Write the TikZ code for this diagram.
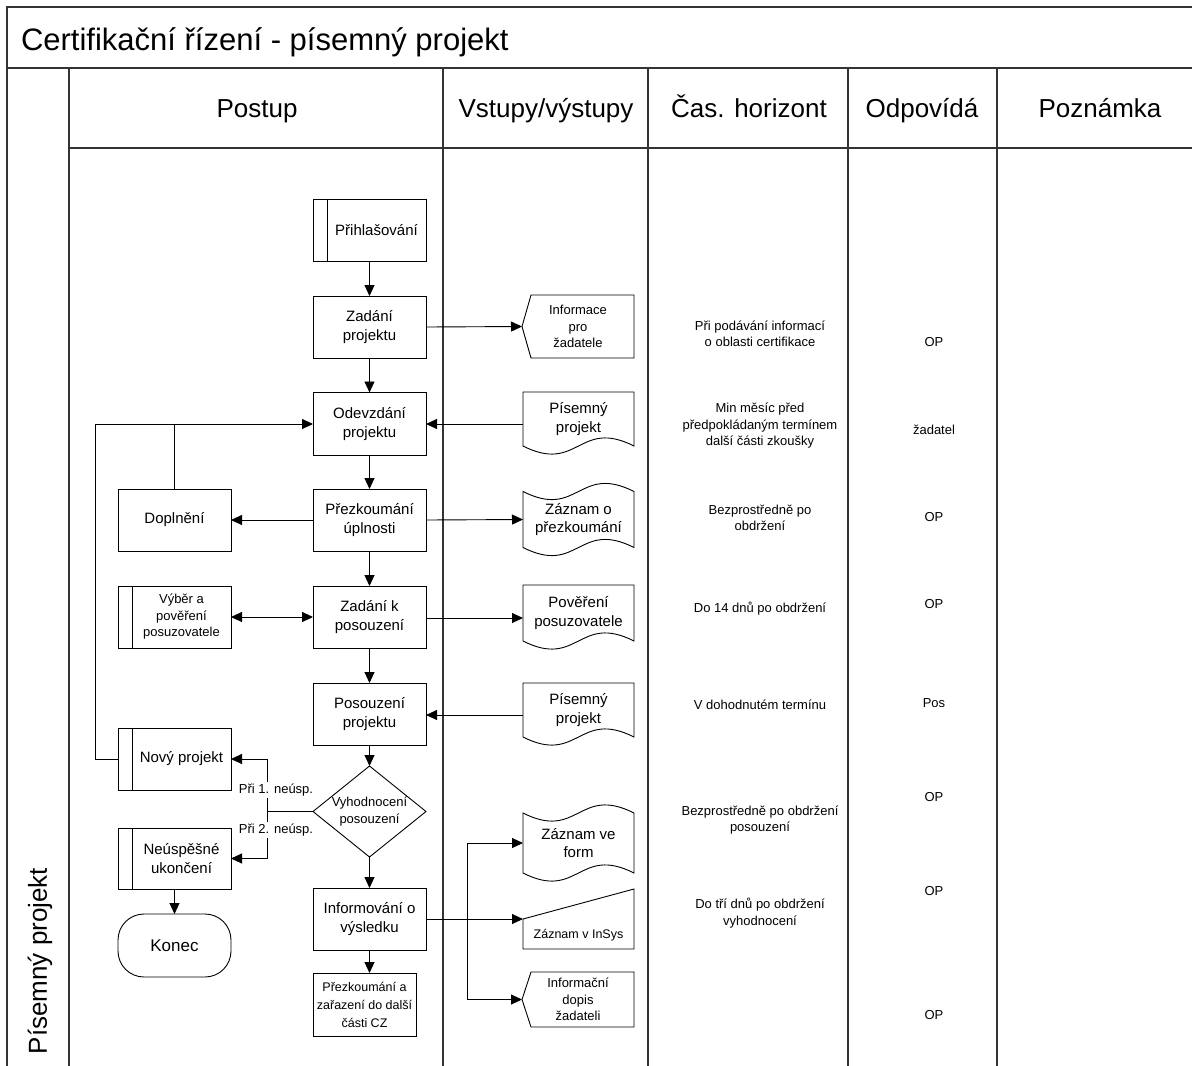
\documentclass[tikz,border=0pt]{standalone}
\usepackage{fontspec}
\setmainfont{Liberation Sans}
\usetikzlibrary{arrows.meta,shapes.geometric}
\newcommand\fstitle{\fontsize{31}{36}\selectfont}
\newcommand\fshead{\fontsize{26}{31}\selectfont}
\newcommand\fsnode{\fontsize{15}{18.5}\selectfont}
\newcommand\fssmall{\fontsize{13}{16.5}\selectfont}
\newcommand\fsnarrow{\fontsize{12.5}{18}\selectfont}
\newcommand\fsend{\fontsize{17}{20}\selectfont}
\begin{document}
\begin{tikzpicture}[x=1pt,y=-1pt,
  every node/.style={inner sep=0pt, outer sep=0pt, align=center},
  grid/.style={line width=1.3pt, draw=black!80},
  outline/.style={draw, line width=0.9pt},
  box/.style={outline, rectangle, minimum width=113pt, minimum height=62pt, font=\fsnode},
  predef/.style={box, path picture={\draw[line width=0.9pt]
      ([xshift=14pt]path picture bounding box.north west) --
      ([xshift=14pt]path picture bounding box.south west);}},
  terminal/.style={outline, rectangle, rounded corners=26pt, minimum width=113pt, minimum height=63pt, font=\fsend},
  decision/.style={outline, diamond, minimum width=113pt, minimum height=91pt},
  ghost/.style={rectangle, minimum width=111pt, font=\fsnode},
  conn/.style={line width=0.9pt},
  arr/.style={conn, -{Triangle[length=11pt,width=10pt]}},
  darr/.style={conn, {Triangle[length=11pt,width=10pt]}-{Triangle[length=11pt,width=10pt]}},
  note/.style={font=\fssmall},
  head/.style={font=\fshead, anchor=base},
  tag/.style={font=\fssmall, fill=white, inner sep=1.5pt}
]
\useasboundingbox (0,0) rectangle (1192,1066);

% ---------- table frame ----------
\draw[grid] (7,1070) -- (7,7) -- (1195,7);
\draw[grid] (7,68) -- (1195,68);
\draw[grid] (69,148) -- (1195,148);
\foreach \cx in {69,443,648,848,997}
  \draw[grid] (\cx,68) -- (\cx,1070);

\node[anchor=base west, font=\fstitle] (title) at (21,50) {Certifikační řízení - písemný projekt};
\node[head] (hPostup) at (257,117) {Postup};
\node[head] (hVstupy) at (546,117) {Vstupy/výstupy};
\node[head] (hCas) at (749,117) {Čas. horizont};
\node[head] (hOdp) at (922,117) {Odpovídá};
\node[head] (hPozn) at (1100,117) {Poznámka};
\node[font=\fshead, rotate=90] (lane) at (40,961) {Písemný projekt};

% ---------- process steps ----------
\node[predef] (prih) at (369.5,230) {};
\node[font=\fsnode] (prihT) at ([xshift=7pt]prih.center) {Přihlašování};
\node[box] (zadP) at (369.5,327) {Zadání\\projektu};
\node[box, minimum height=63pt] (odev) at (369.5,424) {Odevzdání\\projektu};
\node[box] (prez) at (369.5,520) {Přezkoumání\\úplnosti};
\node[box] (dopl) at (174.5,520) {Doplnění};
\node[box] (zadK) at (369.5,617) {Zadání k\\posouzení};
\node[predef] (vyber) at (174.5,617) {};
\node[font=\fssmall] (vyberT) at ([xshift=7pt]vyber.center) {Výběr a\\pověření\\posuzovatele};
\node[box] (posP) at (369.5,714) {Posouzení\\projektu};
\node[predef] (novy) at (174.5,759) {};
\node[font=\fsnode] (novyT) at ([xshift=7pt]novy.center) {Nový projekt};
\node[decision] (vyh) at (369.5,811.5) {};
\node[font=\fssmall] (vyhT) at (vyh.center) {Vyhodnocení\\posouzení};
\node[predef, minimum height=61pt] (neusp) at (174.5,858.5) {};
\node[font=\fsnode] (neuspT) at ([xshift=7pt]neusp.center) {Neúspěšné\\ukončení};
\node[terminal] (konec) at (174.5,945.5) {Konec};
\node[box] (inform) at (369.5,919) {Informování o\\výsledku};
\node[box, minimum width=103pt, minimum height=63pt, font=\fsnarrow] (prezA) at (364.5,1004.5) {Přezkoumání a\\zařazení do další\\části CZ};

% ---------- inputs / outputs ----------
% off-page letter to the applicant
\node[ghost, minimum width=112pt, minimum height=63pt, font=\fssmall] (inf1) at (578,326.5) {Informace\\pro\\žadatele};
\draw[outline] (inf1.west) -- ([xshift=9pt]inf1.north west) -- (inf1.north east)
  -- (inf1.south east) -- ([xshift=9pt]inf1.south west) -- cycle;

% documents with a wavy lower edge
\node[ghost, minimum height=54pt] (pis1) at (578.5,419) {Písemný\\projekt};
\draw[outline] (pis1.south west) -- (pis1.north west) -- (pis1.north east) -- (pis1.south east)
  .. controls +(-55.5,-28) and +(55.5,28) .. (pis1.south west);

\node[ghost, minimum height=56pt] (pov) at (578.5,613) {Pověření\\posuzovatele};
\draw[outline] (pov.south west) -- (pov.north west) -- (pov.north east) -- (pov.south east)
  .. controls +(-55.5,-28) and +(55.5,28) .. (pov.south west);

\node[ghost, minimum height=54pt] (pis2) at (578.5,710) {Písemný\\projekt};
\draw[outline] (pis2.south west) -- (pis2.north west) -- (pis2.north east) -- (pis2.south east)
  .. controls +(-55.5,-28) and +(55.5,28) .. (pis2.south west);

% punched-tape records
\node[ghost, minimum height=56pt] (zazP) at (578.5,519.5) {Záznam o\\přezkoumání};
\draw[outline] (zazP.north west) .. controls +(55.5,28) and +(-55.5,-28) .. (zazP.north east)
  -- (zazP.south east) .. controls +(-55.5,-28) and +(55.5,28) .. (zazP.south west) -- cycle;

\node[ghost, minimum height=60pt] (zazF) at (578.5,843) {Záznam ve\\form};
\draw[outline] (zazF.north west) .. controls +(55.5,28) and +(-55.5,-28) .. (zazF.north east)
  -- (zazF.south east) .. controls +(-55.5,-28) and +(55.5,28) .. (zazF.south west) -- cycle;

% manual input into the information system
\node[ghost, minimum height=60pt] (insys) at (578.5,919) {};
\draw[outline] (insys.west) -- (insys.north east) -- (insys.south east) -- (insys.south west) -- cycle;
\node[font=\fsnarrow] (insysT) at (578.5,935) {Záznam v InSys};

% off-page information letter
\node[ghost, minimum width=112pt, minimum height=55pt, font=\fssmall] (dopis) at (578,999.5) {Informační\\dopis\\žadateli};
\draw[outline] (dopis.west) -- ([xshift=9pt]dopis.north west) -- (dopis.north east)
  -- (dopis.south east) -- ([xshift=9pt]dopis.south west) -- cycle;

% ---------- main flow ----------
\draw[arr] (prih) -- (zadP);
\draw[arr] (zadP) -- (odev);
\draw[arr] (odev) -- (prez);
\draw[arr] (prez) -- (zadK);
\draw[arr] (zadK) -- (posP);
\draw[arr] (posP) -- (vyh);
\draw[arr] (vyh) -- (inform);
\draw[arr] (inform.south) -- (inform.south |- prezA.north);

% side branches
\draw[arr] (prez.west) -- (dopl.east);
\draw[darr] (vyber.east) -- (zadK.west);
\draw[arr] (novy.west) -- ++(-23,0) |- (odev.west);
\draw[conn] (dopl.north) -- (dopl.north |- odev.west);

\coordinate (dj) at (267,811.5);
\draw[conn] (vyh.west) -- (dj);
\draw[conn] (dj |- novy.east) -- (dj |- neusp.east);
\draw[arr] (dj |- novy.east) -- (novy.east);
\draw[arr] (dj |- neusp.east) -- (neusp.east);
\node[tag] (first) at (276,790) {Při 1. neúsp.};
\node[tag] (second) at (276,830) {Při 2. neúsp.};
\draw[arr] (neusp) -- (konec);

% inputs and outputs
\draw[arr] (zadP.east) -- (inf1.west);
\draw[arr] (pis1.west |- 0,424) -- (odev.east |- 0,424);
\draw[arr] (prez.east) -- (zazP.west);
\draw[arr] (zadK.east |- 0,618) -- (pov.west |- 0,618);
\draw[arr] (pis2.west |- 0,715) -- (posP.east |- 0,715);
\draw[arr] (inform.east) -- (insys.west);
\coordinate (btop) at (467,843);
\coordinate (bbot) at (467,999.5);
\draw[conn] (btop) -- (bbot);
\draw[arr] (btop) -- (zazF.west);
\draw[arr] (bbot) -- (dopis.west);

% ---------- time horizon ----------
\node[note] (t1) at (760,334) {Při podávání informací\\o oblasti certifikace};
\node[note] (t2) at (760,426) {Min měsíc před\\předpokládaným termínem\\další části zkoušky};
\node[note] (t3) at (760,518) {Bezprostředně po\\obdržení};
\node[note] (t4) at (760,609) {Do 14 dnů po obdržení};
\node[note] (t5) at (760,705) {V dohodnutém termínu};
\node[note] (t6) at (760,820) {Bezprostředně po obdržení\\posouzení};
\node[note] (t7) at (760,913) {Do tří dnů po obdržení\\vyhodnocení};

% ---------- responsibility ----------
\node[note] (r1) at (934,342) {OP};
\node[note] (r2) at (934,430) {žadatel};
\node[note] (r3) at (934,517) {OP};
\node[note] (r4) at (934,604) {OP};
\node[note] (r5) at (934,703) {Pos};
\node[note] (r6) at (934,797) {OP};
\node[note] (r7) at (934,891) {OP};
\node[note] (r8) at (934,1015) {OP};
\end{tikzpicture}
\end{document}
